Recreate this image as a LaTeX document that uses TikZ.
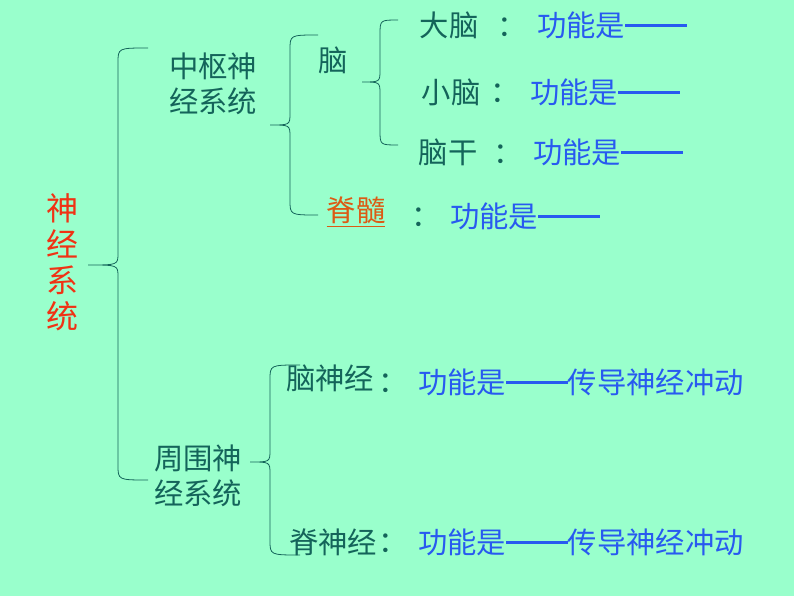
\documentclass[tikz,border=0pt]{standalone}
\usepackage{fontspec}
\setmainfont{Noto Sans CJK SC}
\definecolor{bg}{RGB}{153,255,204}
\definecolor{tl}{RGB}{20,100,90}
\definecolor{bl}{RGB}{40,90,240}
\definecolor{rd}{RGB}{240,50,20}
\definecolor{og}{RGB}{220,90,20}
\tikzset{x=0.75pt,y=-0.75pt,
 br/.style={draw=tl,line width=0.6pt},
 t/.style={text=tl,font=\fontsize{22}{26}\selectfont,inner sep=0pt},
 b/.style={text=bl,font=\fontsize{22}{26}\selectfont,inner sep=0pt,anchor=west}}
\newcommand{\dsh}{\rule[0.3em]{2.1em}{2.2pt}}
\newcommand{\mybrace}[6]{% xend xline xtip ytop ytip ybot
 \draw[br] (#1,#4) .. controls (#2,#4) .. (#2,#4+15) -- (#2,#5-12) .. controls (#2,#5) .. (#3,#5)
  .. controls (#2,#5) .. (#2,#5+12) -- (#2,#6-15) .. controls (#2,#6) .. (#1,#6);}
\begin{document}
\begin{tikzpicture}
\fill[bg] (0,0) rectangle (794,596);
\useasboundingbox (0,0) rectangle (794,596);
\mybrace{148}{118}{88}{48}{265}{480}
\mybrace{318}{290}{270}{35}{125}{215}
\mybrace{398}{380}{362}{20}{82}{145}
\mybrace{300}{270}{250}{365}{462}{555}
\node[text=rd,font=\fontsize{24}{27}\selectfont,align=center,inner sep=0pt] (root) at (62,262) {神\\经\\系\\统};
\node[t,align=center] (zs) at (213,84) {中枢神\\经系统};
\node[t] (nao) at (333,60) {脑};
\node[t] (dn) at (449,25) {大脑};
\node[t] (c1) at (512,27) {：};
\node[b] (f1) at (537,25) {功能是\dsh};
\node[t] (xn) at (451,92) {小脑};
\node[t] (c2) at (505,93) {：};
\node[b] (f2) at (530,92) {功能是\dsh};
\node[t] (ng) at (448,152) {脑干};
\node[t] (c3) at (508,154) {：};
\node[b] (f3) at (533,152) {功能是\dsh};
\node[t,text=og] (js) at (356,212) {\underline{脊髓}};
\node[t] (c4) at (426,217) {：};
\node[b] (f4) at (450,216) {功能是\dsh};
\node[t,align=center] (zw) at (198,476) {周围神\\经系统};
\node[t] (nsj) at (330,378) {脑神经};
\node[t] (c5) at (393,383) {：};
\node[b] (f5) at (418,382) {功能是\dsh 传导神经冲动};
\node[t] (jsj) at (333,542) {脊神经};
\node[t] (c6) at (393,543) {：};
\node[b] (f6) at (418,542) {功能是\dsh 传导神经冲动};
\end{tikzpicture}
\end{document}
